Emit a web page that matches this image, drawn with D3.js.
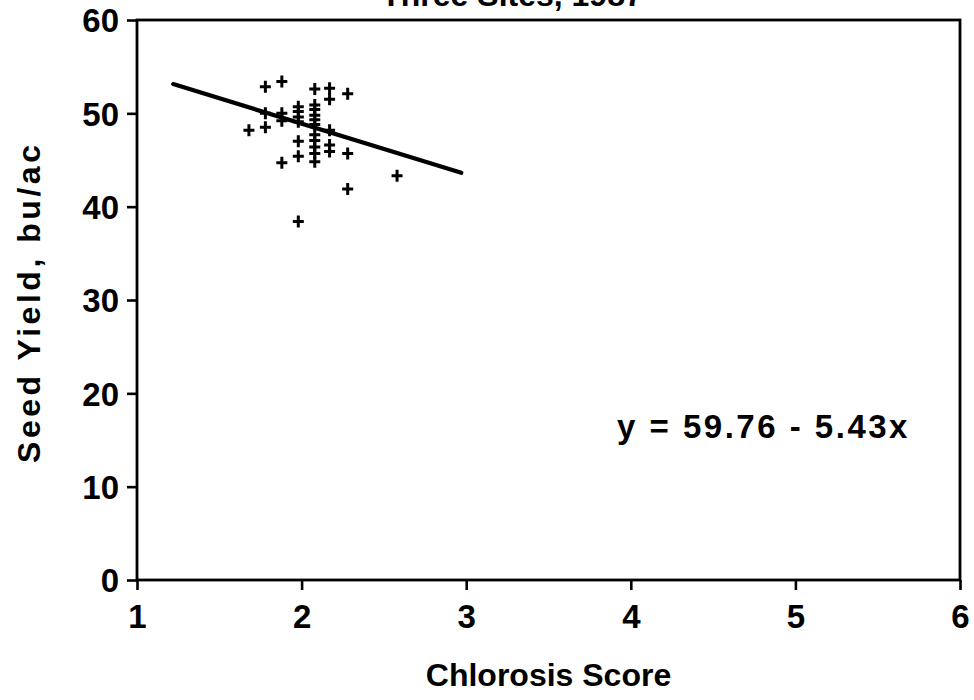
<!DOCTYPE html>
<html>
<head>
<meta charset="utf-8">
<script src="https://cdn.jsdelivr.net/npm/d3@7"></script>
<style>
  body { margin: 0; background: #fff; }
  text { font-family: "Liberation Sans", Arial, Helvetica, sans-serif; font-weight: bold; fill: #000; }
</style>
</head>
<body>
<svg id="chart" width="974" height="700"></svg>
<script>
// Chlorosis score vs. seed yield, one point per plot
const chlorosis = [
  1.78, 1.88, 2.08, 2.17, 2.17, 2.28,
  1.68, 1.78, 1.78, 1.88, 1.88,
  1.98, 1.98, 1.98, 1.98,
  2.08, 2.08, 2.08, 2.08, 2.08, 2.08, 2.08, 2.08, 2.08, 2.08,
  2.17, 2.17, 2.17, 2.28, 2.28,
  1.98, 1.98, 1.98, 1.88, 2.58
];
const seedYield = [
  52.85, 53.4, 52.6, 52.7, 51.5, 52.1,
  48.2, 48.5, 50.0, 50.0, 49.2,
  50.7, 50.2, 49.6, 49.1,
  50.9, 50.4, 49.8, 49.3, 48.8, 47.7, 47.1, 46.4, 45.7, 44.8,
  48.2, 46.6, 45.9, 45.7, 41.9,
  47.0, 45.4, 38.4, 44.7, 43.3
];

// fitted line y = a + b x, drawn over this x range
const intercept = 59.76;
const slope = -5.43;
const fitRange = [1.22, 2.97];

const xTicks = [1, 2, 3, 4, 5, 6];
const yTicks = [0, 10, 20, 30, 40, 50, 60];

const titleText = 'Three Sites, 1987';
const xTitle = 'Chlorosis Score';
const yTitle = 'Seed Yield, bu/ac';

const width = 974;
const height = 700;
const margin = { top: 20, right: 14, bottom: 120, left: 137 };

const svg = d3.select('#chart');

const x = d3.scaleLinear().domain([1, 6]).range([margin.left, width - margin.right]);
const y = d3.scaleLinear().domain([0, 60]).range([height - margin.bottom, margin.top]);

// title sits mostly above the frame, only its lower edge shows
svg.append('text')
  .attr('x', 512)
  .attr('y', 6)
  .attr('text-anchor', 'middle')
  .style('font-size', '32px')
  .text(titleText);

const xAxis = svg.append('g')
  .attr('transform', `translate(0,${y(0)})`)
  .call(d3.axisBottom(x).tickValues(xTicks).tickSize(10).tickPadding(8).tickFormat(d3.format('d')));

const yAxis = svg.append('g')
  .attr('transform', `translate(${x(1)},0)`)
  .call(d3.axisLeft(y).tickValues(yTicks).tickSize(10).tickPadding(8).tickFormat(d3.format('d')));

[xAxis, yAxis].forEach((g) => {
  g.select('.domain').remove();
  g.selectAll('.tick line').attr('stroke-width', 2.6);
  g.selectAll('.tick text')
    .style('font-size', '33px')
    .style('font-family', '"Liberation Sans", Arial, sans-serif')
    .style('font-weight', 'bold');
});
xAxis.selectAll('.tick text').attr('dy', '0.9em');
yAxis.selectAll('.tick text').attr('dy', '0.36em');

// closed frame round the plot
svg.append('rect')
  .attr('x', x(1))
  .attr('y', y(60))
  .attr('width', x(6) - x(1))
  .attr('height', y(0) - y(60))
  .attr('fill', 'none')
  .attr('stroke', '#000')
  .attr('stroke-width', 2.8);

// axis titles
svg.append('text')
  .attr('x', (x(1) + x(6)) / 2)
  .attr('y', 686)
  .attr('text-anchor', 'middle')
  .style('font-size', '32px')
  .text(xTitle);

svg.append('text')
  .attr('transform', `translate(40,${(y(0) + y(60)) / 2 + 4}) rotate(-90)`)
  .attr('text-anchor', 'middle')
  .attr('textLength', 318)
  .attr('lengthAdjust', 'spacing')
  .style('font-size', '32px')
  .text(yTitle);

// regression line
const fit = (v) => intercept + slope * v;
svg.append('line')
  .attr('x1', x(fitRange[0]))
  .attr('y1', y(fit(fitRange[0])))
  .attr('x2', x(fitRange[1]))
  .attr('y2', y(fit(fitRange[1])))
  .attr('stroke', '#000')
  .attr('stroke-width', 4.2)
  .attr('stroke-linecap', 'round');

// plus markers
const points = chlorosis.map((c, i) => ({ c, s: seedYield[i] }));
svg.append('g')
  .selectAll('path')
  .data(points)
  .join('path')
  .attr('transform', (d) => `translate(${x(d.c)},${y(d.s)})`)
  .attr('d', 'M-5.5,0H5.5M0,-6V6')
  .attr('stroke', '#000')
  .attr('stroke-width', 3)
  .attr('fill', 'none');

// equation of the fitted line
svg.append('text')
  .attr('x', 617)
  .attr('y', 438)
  .style('font-size', '33px')
  .style('letter-spacing', '2.5px')
  .text(`y = ${intercept} - ${-slope}x`);
</script>
</body>
</html>
